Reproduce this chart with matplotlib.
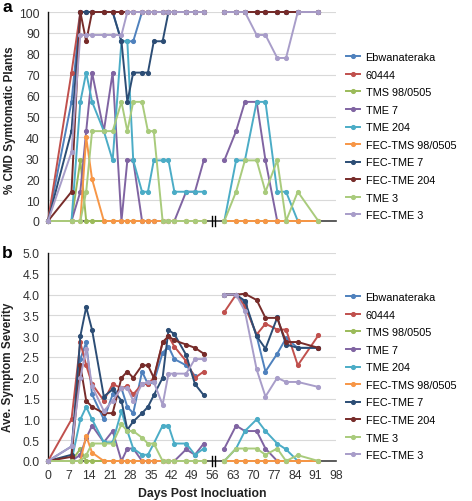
import numpy as np
import matplotlib
matplotlib.use("Agg")
import matplotlib.pyplot as plt
from matplotlib.transforms import blended_transform_factory

plt.rcParams["font.family"] = ["Liberation Sans", "DejaVu Sans"]

# ---- data ----
days_pre = [0, 8, 11, 13, 15, 19, 22, 25, 27, 29, 32, 34, 36, 39, 41, 43, 47, 50, 53]
days_post = [60, 64, 67, 71, 74, 78, 81, 85, 92]

names = ["Ebwanateraka", "60444", "TMS 98/0505", "TME 7", "TME 204",
         "FEC-TMS 98/0505", "FEC-TME 7", "FEC-TME 204", "TME 3", "FEC-TME 3"]
colors = ["#4F81BD", "#C0504D", "#9BBB59", "#8064A2", "#4BACC6",
          "#F79646", "#2C4D75", "#772C2A", "#A9CB7C", "#A89DC9"]

# % CMD symptomatic plants (panel a)
pct_pre = [
    [0, 57, 100, 100, 100, 100, 100, 86, 86, 86, 100, 100, 100, 100, 100, 100, 100, 100, 100],
    [0, 71, 100, 100, 100, 100, 100, 100, 100, 100, 100, 100, 100, 100, 100, 100, 100, 100, 100],
    [0, 0, 29, 0, 0, 0, 0, 0, 0, 0, 0, 0, 0, 0, 0, 0, 0, 0, 0],
    [0, 0, 14, 43, 71, 43, 71, 0, 29, 29, 0, 0, 0, 0, 0, 0, 14, 14, 29],
    [0, 0, 57, 71, 57, 43, 29, 86, 86, 29, 14, 14, 29, 29, 29, 14, 14, 14, 14],
    [0, 0, 0, 40, 20, 0, 0, 0, 0, 0, 0, 0, 0, 0, 0, 0, 0, 0, 0],
    [0, 43, 100, 100, 100, 100, 100, 86, 57, 71, 71, 71, 86, 86, 100, 100, 100, 100, 100],
    [0, 14, 100, 86, 100, 100, 100, 100, 100, 100, 100, 100, 100, 100, 100, 100, 100, 100, 100],
    [0, 0, 0, 14, 43, 43, 43, 57, 43, 57, 57, 43, 43, 0, 0, 0, 0, 0, 0],
    [0, 33, 89, 89, 89, 89, 89, 89, 100, 100, 100, 100, 100, 100, 100, 100, 100, 100, 100],
]
pct_post = [
    [100, 100, 100, 100, 100, 100, 100, 100, 100],
    [100, 100, 100, 100, 100, 100, 100, 100, 100],
    [0, 0, 0, 0, 0, 0, 0, 0, 0],
    [29, 43, 57, 57, 29, 0, None, None, None],
    [0, 29, 29, 57, 57, 14, 14, 0, None],
    [0, 0, 0, 0, 0, 0, 0, 0, 0],
    [100, 100, 100, 100, 100, 100, 100, 100, 100],
    [100, 100, 100, 100, 100, 100, 100, 100, 100],
    [0, 14, 29, 29, 14, 29, 0, 14, 0],
    [100, 100, 100, 89, 89, 78, 78, 100, 100],
]

# average symptom severity (panel b)
sev_pre = [
    [0, 0.35, 2.45, 2.85, 1.6, 1.0, 1.6, 1.75, 1.3, 1.15, 2.15, 1.85, 1.9, 2.6, 2.75, 2.45, 2.3, 2.05, None],
    [0, 1.0, 2.85, 2.3, 1.85, 1.45, 1.85, 1.75, 1.8, 1.6, 1.85, 1.85, 2.0, 2.85, 3.0, 2.75, 2.4, 2.0, 2.15],
    [0, 0, 0.29, 0, 0, 0, 0, 0, 0, 0, 0, 0, 0, 0, 0, 0, 0, 0, 0],
    [0, 0, 0.15, 0.55, 0.85, 0.45, 0.72, 0, 0.3, 0.3, 0, 0, 0, 0, 0, 0, 0.28, 0.15, 0.42],
    [0, 0, 1.0, 1.3, 1.0, 0.45, 0.45, 1.2, 0.72, 0.3, 0.15, 0.15, 0.42, 0.85, 0.85, 0.42, 0.42, 0.15, 0.3],
    [0, 0, 0, 0.6, 0.2, 0, 0, 0, 0, 0, 0, 0, 0, 0, 0, 0, 0, 0, 0],
    [0, 0.15, 3.0, 3.7, 3.15, 1.55, 1.72, 1.45, 0.75, 0.95, 1.15, 1.3, 1.58, 2.0, 3.15, 3.05, 2.55, 1.85, 1.58],
    [0, 0.1, 2.3, 1.45, 1.3, 1.15, 1.15, 2.0, 2.15, 2.0, 2.3, 2.3, 2.0, 2.85, 3.0, 2.9, 2.8, 2.72, 2.58],
    [0, 0, 0, 0.14, 0.42, 0.42, 0.42, 0.88, 0.72, 0.72, 0.56, 0.42, 0.42, 0, 0, 0, 0, 0, 0],
    [0, 0.35, 2.0, 2.7, 1.8, 1.2, 1.45, 1.75, 1.75, 1.45, 1.85, 1.9, 1.9, 1.35, 2.1, 2.1, 2.1, 2.45, 2.45],
]
sev_post = [
    [4.0, 4.0, 3.8, 3.0, 2.15, 2.58, 2.95, 2.72, 2.72],
    [3.58, 4.0, 3.72, 3.04, 3.3, 3.16, 3.16, 2.3, 3.02],
    [0, 0, 0, 0, 0, 0, 0, 0, 0],
    [0.3, 0.85, 0.72, 0.72, 0.3, 0, None, None, None],
    [0, 0.3, 0.72, 1.0, 0.72, 0.42, 0.28, 0, None],
    [0, 0, 0, 0, 0, 0, 0, 0, 0],
    [4.0, 4.0, 3.85, 3.0, 2.7, 3.45, 2.8, 2.72, 2.72],
    [4.0, 4.0, 4.02, 3.87, 3.44, 3.44, 2.86, 2.86, 2.72],
    [0, 0.3, 0.3, 0.3, 0.15, 0.3, 0, 0.14, 0],
    [4.0, 4.0, 3.6, 2.2, 1.55, 2.0, 1.9, 1.9, 1.78],
]

x_ticks = list(range(0, 99, 7))
break_day = 56.3


def to_arr(vals):
    return np.array([np.nan if v is None else v for v in vals], dtype=float)


def draw_panel(ax, pre, post, ymax, ystep, yfmt, legend_top):
    x = np.array(days_pre + [np.nan] + days_post, dtype=float)
    for i, name in enumerate(names):
        y = np.concatenate([to_arr(pre[i]), [np.nan], to_arr(post[i])])
        ax.plot(x, y, "-o", color=colors[i], lw=1.4, ms=2.7, label=name,
                clip_on=False, zorder=3 + i * 0.1)

    ax.set_xlim(0, 98)
    ax.set_ylim(0, ymax)
    yt = np.arange(0, ymax + ystep / 2, ystep)
    ax.set_yticks(yt)
    ax.set_yticklabels([yfmt.format(v) for v in yt])
    ax.set_xticks(x_ticks)
    ax.grid(axis="y", color="#D9D9D9", lw=0.8)
    ax.set_axisbelow(True)
    ax.tick_params(length=0, labelsize=8.8, colors="#333333", pad=6)
    for s in ("top", "right"):
        ax.spines[s].set_visible(False)
    ax.spines["left"].set_color("#111111")
    ax.spines["left"].set_linewidth(1.0)
    ax.spines["bottom"].set_color("#404040")
    ax.spines["bottom"].set_linewidth(1.2)

    # axis break marks
    tr = blended_transform_factory(ax.transData, ax.transAxes)
    for dx in (-0.5, 0.5):
        ax.plot([break_day + dx] * 2, [-0.025, 0.025], color="black", lw=1.0,
                transform=tr, clip_on=False, zorder=10)

    ax.legend(loc="upper left", bbox_to_anchor=(346 / 472, legend_top),
              bbox_transform=ax.figure.transFigure, frameon=False, fontsize=7.8,
              handlelength=1.3, handletextpad=0.5, labelspacing=0.7,
              borderpad=0, borderaxespad=0, markerscale=1.0)


fig = plt.figure(figsize=(4.72, 5.02), dpi=100)
ax_a = fig.add_axes([48 / 472, (502 - 222) / 502, 288 / 472, 209 / 502])
ax_b = fig.add_axes([48 / 472, (502 - 462) / 502, 288 / 472, 208 / 502])

draw_panel(ax_a, pct_pre, pct_post, 100, 10, "{:.0f}", 1 - 53 / 502)
draw_panel(ax_b, sev_pre, sev_post, 5.0, 0.5, "{:.1f}", 1 - 293 / 502)

ax_a.tick_params(labelbottom=False)

fig.text(10 / 472, 1 - 120 / 502, "% CMD Symtomatic Plants", rotation=90,
         ha="center", va="center", fontsize=8.4, fontweight="bold", color="#222222")
fig.text(8 / 472, 1 - 367 / 502, "Ave. Symptom Severity", rotation=90,
         ha="center", va="center", fontsize=8.4, fontweight="bold", color="#222222")
fig.text(202 / 472, 1 - 494 / 502, "Days Post Inocluation",
         ha="center", va="center", fontsize=8.8, fontweight="bold", color="#222222")
fig.text(7 / 472, 1 - 8 / 502, "a", ha="center", va="center",
         fontsize=12.5, fontweight="bold")
fig.text(7 / 472, 1 - 253 / 502, "b", ha="center", va="center",
         fontsize=12.5, fontweight="bold")

fig.savefig("out.png", dpi=100)
